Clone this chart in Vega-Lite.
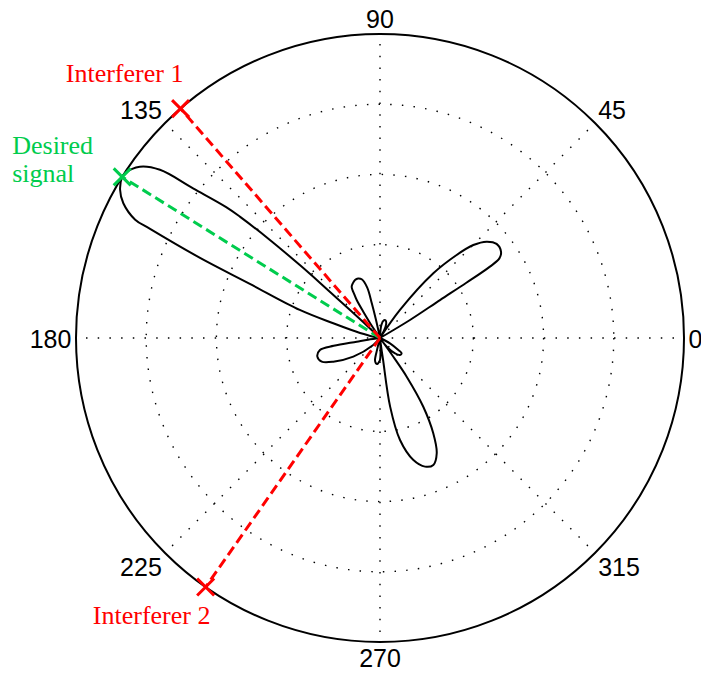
{
  "$schema": "https://vega.github.io/schema/vega-lite/v6.json",
  "width": 608,
  "height": 608,
  "autosize": {"type": "none"},
  "padding": {"left": 76, "top": 34, "right": 17, "bottom": 34},
  "background": "white",
  "config": {"view": {"stroke": null}},
  "datasets": {
    "rings": [{"dB": -30}, {"dB": -20}, {"dB": -10}],
    "outer": [{"dB": 0}],
    "spokes": [
      {"angle": 0}, {"angle": 45}, {"angle": 90}, {"angle": 135},
      {"angle": 180}, {"angle": 225}, {"angle": 270}, {"angle": 315}
    ],
    "ticks": [
      {"angle": 0, "label": "0"}, {"angle": 45, "label": "45"},
      {"angle": 90, "label": "90"}, {"angle": 135, "label": "135"},
      {"angle": 180, "label": "180"}, {"angle": 225, "label": "225"},
      {"angle": 270, "label": "270"}, {"angle": 315, "label": "315"}
    ],
    "pattern": [
      {"angle": 0, "dB": -50},
      {"angle": 30.5, "dB": -50},
      {"angle": 31, "dB": -38.32},
      {"angle": 32.3, "dB": -33.19},
      {"angle": 32.6, "dB": -28.7},
      {"angle": 33.0, "dB": -24.63},
      {"angle": 33.7, "dB": -22.86},
      {"angle": 35.5, "dB": -22.13},
      {"angle": 38.9, "dB": -21.96},
      {"angle": 42.1, "dB": -22.83},
      {"angle": 44.9, "dB": -24.54},
      {"angle": 47.3, "dB": -27.21},
      {"angle": 50.5, "dB": -31.36},
      {"angle": 54.5, "dB": -38.4},
      {"angle": 56.5, "dB": -50},
      {"angle": 59, "dB": -50},
      {"angle": 61, "dB": -42.16},
      {"angle": 66, "dB": -41.16},
      {"angle": 72, "dB": -40.68},
      {"angle": 78, "dB": -40.74},
      {"angle": 84, "dB": -41.45},
      {"angle": 89, "dB": -50},
      {"angle": 101, "dB": -50},
      {"angle": 102.5, "dB": -40.68},
      {"angle": 103.3, "dB": -38.22},
      {"angle": 104.2, "dB": -35.89},
      {"angle": 107.3, "dB": -34.54},
      {"angle": 110.2, "dB": -34.26},
      {"angle": 113.3, "dB": -34.3},
      {"angle": 116.5, "dB": -34.61},
      {"angle": 118.9, "dB": -34.95},
      {"angle": 120.6, "dB": -36.18},
      {"angle": 121.5, "dB": -36.95},
      {"angle": 122.5, "dB": -39.03},
      {"angle": 124, "dB": -41.16},
      {"angle": 126, "dB": -50},
      {"angle": 135.5, "dB": -50},
      {"angle": 136.5, "dB": -40.45},
      {"angle": 137, "dB": -37.46},
      {"angle": 137.4, "dB": -31.76},
      {"angle": 137.7, "dB": -27.92},
      {"angle": 138.3, "dB": -22.36},
      {"angle": 139.1, "dB": -16.95},
      {"angle": 139.6, "dB": -14.53},
      {"angle": 141.3, "dB": -9.26},
      {"angle": 142.6, "dB": -3.85},
      {"angle": 144.5, "dB": -1.28},
      {"angle": 147.1, "dB": -0.06},
      {"angle": 148, "dB": 0},
      {"angle": 150.3, "dB": -0.68},
      {"angle": 152.3, "dB": -2.01},
      {"angle": 154.2, "dB": -4.57},
      {"angle": 154.6, "dB": -6.98},
      {"angle": 156.0, "dB": -15.24},
      {"angle": 157.4, "dB": -23.22},
      {"angle": 160.7, "dB": -31.19},
      {"angle": 162.5, "dB": -36.32},
      {"angle": 165, "dB": -39.74},
      {"angle": 168, "dB": -41.88},
      {"angle": 170, "dB": -50},
      {"angle": 185, "dB": -50},
      {"angle": 188, "dB": -41.59},
      {"angle": 189, "dB": -39.94},
      {"angle": 189.6, "dB": -36.61},
      {"angle": 191.3, "dB": -34.58},
      {"angle": 196.6, "dB": -33.99},
      {"angle": 202.1, "dB": -34.34},
      {"angle": 206.9, "dB": -35.84},
      {"angle": 215, "dB": -38.66},
      {"angle": 226, "dB": -41.92},
      {"angle": 230, "dB": -50},
      {"angle": 254, "dB": -50},
      {"angle": 256, "dB": -41.59},
      {"angle": 257.2, "dB": -40.08},
      {"angle": 260.5, "dB": -39.67},
      {"angle": 264.1, "dB": -39.58},
      {"angle": 267.5, "dB": -39.88},
      {"angle": 270, "dB": -40.17},
      {"angle": 273, "dB": -41.88},
      {"angle": 275.5, "dB": -50},
      {"angle": 277, "dB": -50},
      {"angle": 277.5, "dB": -41.88},
      {"angle": 278.0, "dB": -40.17},
      {"angle": 278.4, "dB": -33.42},
      {"angle": 281.1, "dB": -28.49},
      {"angle": 285.3, "dB": -25.28},
      {"angle": 289.3, "dB": -23.89},
      {"angle": 292.8, "dB": -23.69},
      {"angle": 296.2, "dB": -25.0},
      {"angle": 299.2, "dB": -27.75},
      {"angle": 302.2, "dB": -31.73},
      {"angle": 304.6, "dB": -36.61},
      {"angle": 305.4, "dB": -40.02},
      {"angle": 306.5, "dB": -50},
      {"angle": 307.2, "dB": -50},
      {"angle": 308, "dB": -41.73},
      {"angle": 314.4, "dB": -40.24},
      {"angle": 319.6, "dB": -39.57},
      {"angle": 324.8, "dB": -39.53},
      {"angle": 326.8, "dB": -40.18},
      {"angle": 332, "dB": -41.69},
      {"angle": 336, "dB": -50},
      {"angle": 360, "dB": -50}
    ],
    "targets": [
      {"name": "Desired signal", "angle": 148, "dB": 0},
      {"name": "Interferer 1", "angle": 131, "dB": 0},
      {"name": "Interferer 2", "angle": 235, "dB": 0}
    ]
  },
  "layer": [
    {
      "data": {"name": "rings"},
      "transform": [
        {"calculate": "(datum.dB + 43.3) / 43.3", "as": "rn"},
        {"calculate": "0", "as": "cx"},
        {"calculate": "0", "as": "cy"}
      ],
      "mark": {"type": "point", "shape": "circle", "filled": false, "stroke": "black", "strokeWidth": 1.4, "strokeDash": [1.5, 10.2], "opacity": 1},
      "encoding": {
        "x": {"field": "cx", "type": "quantitative", "scale": {"domain": [-1, 1], "nice": false, "zero": false}, "axis": null},
        "y": {"field": "cy", "type": "quantitative", "scale": {"domain": [-1, 1], "nice": false, "zero": false}, "axis": null},
        "size": {"field": "rn", "type": "quantitative", "scale": {"type": "pow", "exponent": 2, "domain": [0, 1], "range": [0, 369664]}, "legend": null}
      }
    },
    {
      "data": {"name": "spokes"},
      "transform": [
        {"calculate": "0", "as": "cx"},
        {"calculate": "0", "as": "cy"},
        {"calculate": "cos(datum.angle * PI / 180)", "as": "ex"},
        {"calculate": "sin(datum.angle * PI / 180)", "as": "ey"}
      ],
      "mark": {"type": "rule", "stroke": "black", "strokeWidth": 1.4, "strokeDash": [1.5, 10.2]},
      "encoding": {
        "x": {"field": "cx", "type": "quantitative"},
        "y": {"field": "cy", "type": "quantitative"},
        "x2": {"field": "ex"},
        "y2": {"field": "ey"}
      }
    },
    {
      "data": {"name": "outer"},
      "transform": [
        {"calculate": "(datum.dB + 43.3) / 43.3", "as": "rn"},
        {"calculate": "0", "as": "cx"},
        {"calculate": "0", "as": "cy"}
      ],
      "mark": {"type": "point", "shape": "circle", "filled": false, "stroke": "black", "strokeWidth": 2, "opacity": 1},
      "encoding": {
        "x": {"field": "cx", "type": "quantitative"},
        "y": {"field": "cy", "type": "quantitative"},
        "size": {"field": "rn", "type": "quantitative", "legend": null}
      }
    },
    {
      "data": {"name": "ticks"},
      "transform": [
        {"calculate": "datum.angle * PI / 180", "as": "a"},
        {"calculate": "abs(cos(datum.a)) < 0.1 ? 0 : (cos(datum.a) > 0 ? 1 : -1)", "as": "sx"},
        {"calculate": "abs(sin(datum.a)) < 0.1 ? 0 : (sin(datum.a) > 0 ? 1 : -1)", "as": "sy"},
        {"calculate": "1.015 * cos(datum.a) + datum.sx * 0.0229 * length(datum.label)", "as": "lx"},
        {"calculate": "1.015 * sin(datum.a) + datum.sy * 0.0345", "as": "ly"}
      ],
      "mark": {"type": "text", "font": "Liberation Sans", "fontSize": 25, "align": "center", "baseline": "middle", "dy": 1.5, "color": "black"},
      "encoding": {
        "x": {"field": "lx", "type": "quantitative"},
        "y": {"field": "ly", "type": "quantitative"},
        "text": {"field": "label"}
      }
    },
    {
      "data": {"name": "pattern"},
      "transform": [
        {"calculate": "max(0, (datum.dB + 43.3) / 43.3)", "as": "rn"},
        {"calculate": "datum.rn * cos(datum.angle * PI / 180)", "as": "px"},
        {"calculate": "datum.rn * sin(datum.angle * PI / 180)", "as": "py"}
      ],
      "mark": {"type": "line", "stroke": "black", "strokeWidth": 2, "strokeJoin": "round", "interpolate": "catmull-rom"},
      "encoding": {
        "x": {"field": "px", "type": "quantitative"},
        "y": {"field": "py", "type": "quantitative"},
        "order": {"field": "angle", "type": "quantitative"}
      }
    },
    {
      "data": {"name": "targets"},
      "transform": [
        {"calculate": "(datum.dB + 43.3) / 43.3", "as": "rn"},
        {"calculate": "0", "as": "cx"},
        {"calculate": "0", "as": "cy"},
        {"calculate": "datum.rn * cos(datum.angle * PI / 180)", "as": "tx"},
        {"calculate": "datum.rn * sin(datum.angle * PI / 180)", "as": "ty"}
      ],
      "layer": [
        {
          "mark": {"type": "rule", "strokeWidth": 3, "strokeDash": [10, 5]},
          "encoding": {
            "x": {"field": "cx", "type": "quantitative"},
            "y": {"field": "cy", "type": "quantitative"},
            "x2": {"field": "tx"},
            "y2": {"field": "ty"},
            "color": {"field": "name", "type": "nominal", "scale": {"domain": ["Desired signal", "Interferer 1", "Interferer 2"], "range": ["#00cc4d", "#ff0000", "#ff0000"]}, "legend": null}
          }
        },
        {
          "mark": {"type": "point", "shape": "M-1,-1L1,1M1,-1L-1,1", "filled": false, "size": 289, "strokeWidth": 3, "opacity": 1},
          "encoding": {
            "x": {"field": "tx", "type": "quantitative"},
            "y": {"field": "ty", "type": "quantitative"},
            "color": {"field": "name", "type": "nominal", "legend": null}
          }
        },
        {
          "transform": [{"filter": "datum.name === 'Interferer 1'"}],
          "mark": {"type": "text", "font": "Liberation Serif", "fontSize": 26, "align": "center", "baseline": "alphabetic", "dx": -56, "dy": -27, "color": "#ff0000"},
          "encoding": {
            "x": {"field": "tx", "type": "quantitative"},
            "y": {"field": "ty", "type": "quantitative"},
            "text": {"field": "name"}
          }
        },
        {
          "transform": [{"filter": "datum.name === 'Interferer 2'"}],
          "mark": {"type": "text", "font": "Liberation Serif", "fontSize": 26, "align": "center", "baseline": "alphabetic", "dx": -54, "dy": 37, "color": "#ff0000"},
          "encoding": {
            "x": {"field": "tx", "type": "quantitative"},
            "y": {"field": "ty", "type": "quantitative"},
            "text": {"field": "name"}
          }
        },
        {
          "transform": [{"filter": "datum.name === 'Desired signal'"}],
          "mark": {"type": "text", "font": "Liberation Serif", "fontSize": 26, "align": "left", "baseline": "alphabetic", "lineBreak": " ", "lineHeight": 28.4, "dx": -110, "dy": -23, "color": "#00cc4d"},
          "encoding": {
            "x": {"field": "tx", "type": "quantitative"},
            "y": {"field": "ty", "type": "quantitative"},
            "text": {"field": "name"}
          }
        }
      ]
    }
  ]
}
